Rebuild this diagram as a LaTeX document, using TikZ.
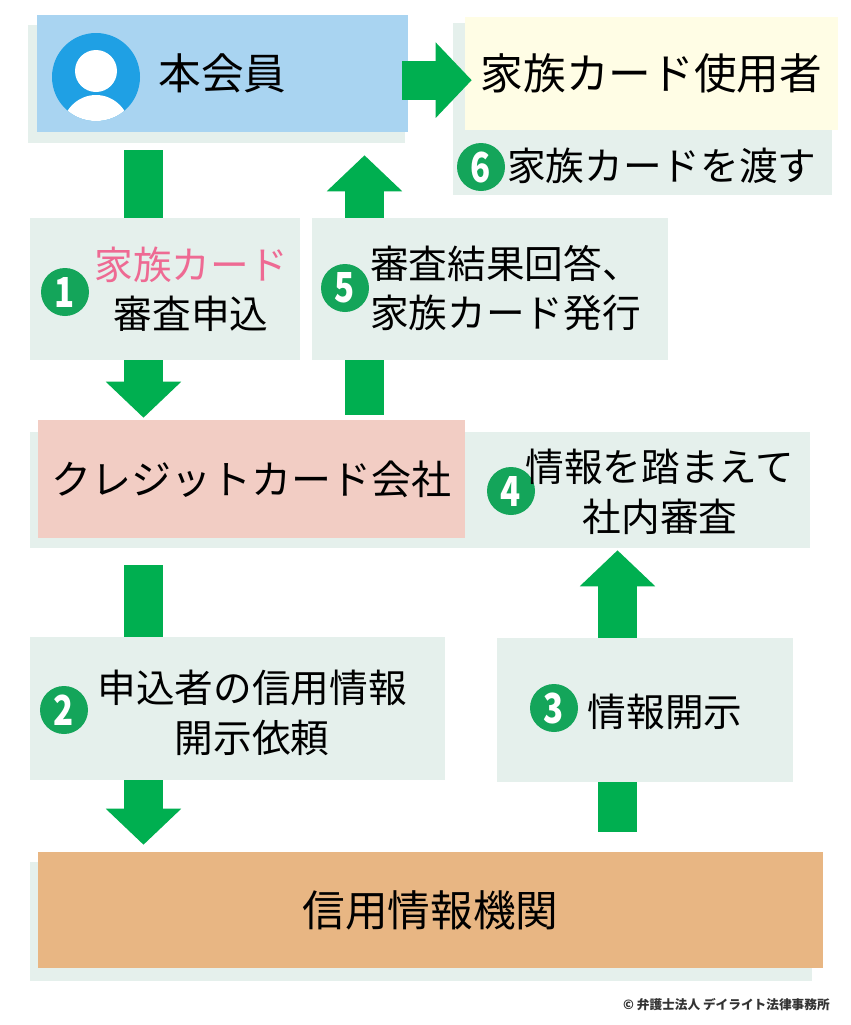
\documentclass[tikz,border=0pt]{standalone}
\usepackage{fontspec}
\setmainfont{Noto Sans CJK JP}
\usepackage{xcolor}
\usepackage{tikz}
\usetikzlibrary{arrows.meta,backgrounds}
\definecolor{panelbg}{HTML}{E5F0EC}
\definecolor{memblue}{HTML}{A9D4F1}
\definecolor{iconblue}{HTML}{1FA0E4}
\definecolor{famyellow}{HTML}{FFFDE5}
\definecolor{cardpink}{HTML}{F2CDC4}
\definecolor{bureauorange}{HTML}{E8B683}
\definecolor{flowgreen}{HTML}{00AF50}
\definecolor{numgreen}{HTML}{14A55A}
\definecolor{pinktext}{HTML}{EE6A93}
\newcommand{\numtxt}[1]{\scalebox{0.8}[1]{#1}}
\tikzset{
  panel/.style={fill=panelbg, inner sep=0pt},
  box/.style={inner sep=0pt, font=\fontsize{32}{38}\selectfont},
  num/.style={circle, fill=numgreen, text=white, minimum size=36pt, inner sep=0pt, font=\bfseries\fontsize{31}{31}\selectfont},
  lab/.style={inner sep=0pt, font=\fontsize{29}{37}\selectfont},
  flow/.style={draw=flowgreen, line width=29pt, -{Triangle[width=55pt,length=27pt]}}
}

\begin{document}
\begin{tikzpicture}[x=0.75pt, y=-0.75pt]
  \useasboundingbox (0,0) rectangle (850,1025);
  \coordinate (c1) at (143.5,0);
  \coordinate (c5) at (364.5,0);
  \coordinate (c3) at (617.5,0);

  \node[panel, minimum width=282.75pt, minimum height=88.5pt] (p0) at (216.5,84) {};
  \node[panel, minimum width=284.25pt, minimum height=129pt] (p6) at (642.5,109) {};
  \node[panel, minimum width=202.5pt, minimum height=106.5pt] (p1) at (165,289) {};
  \node[panel, minimum width=267pt, minimum height=106.5pt] (p5) at (490,289) {};
  \node[panel, minimum width=585pt, minimum height=87pt] (pc) at (420,490) {};
  \node[panel, minimum width=311.25pt, minimum height=107.25pt] (p2) at (237.5,708.5) {};
  \node[panel, minimum width=222pt, minimum height=108pt] (p3) at (645,710) {};
  \node[panel, minimum width=586.5pt, minimum height=89.25pt] (pb) at (421,921.5) {};

  \node[box, fill=memblue, minimum width=278.25pt, minimum height=87.75pt] (mem) at (222.5,73.5) {本会員};
  \node[box, fill=famyellow, minimum width=279.75pt, minimum height=84.75pt] (fam) at (651.5,73.5) {家族カード使用者};
  \node[box, fill=cardpink, minimum width=320.25pt, minimum height=88.5pt, font=\fontsize{30}{36}\selectfont] (card) at (251.5,479) {クレジットカード会社};
  \node[box, fill=bureauorange, minimum width=588.75pt, minimum height=87pt] (bureau) at (430.5,910) {信用情報機関};

  \node[circle, fill=iconblue, minimum size=66pt, inner sep=0pt] (icon) at (96,77) {};
  \fill[white] ([yshift=4.5pt]icon.center) circle (15.75pt);
  \begin{scope}
    \clip (icon.center) circle (33pt);
    \fill[white] ([yshift=-39.75pt]icon.center) ellipse (25.5pt and 26.25pt);
  \end{scope}

  \node[num] (n6) at (481,167) {\numtxt{6}};
  \node[lab, anchor=west] (t6) at (507,166) {家族カードを渡す};
  \node[num] (n1) at (65,292) {\numtxt{1}};
  \node[lab, align=center] (t1) at (191,289) {\textcolor{pinktext}{家族カード}\\審査申込};
  \node[num] (n5) at (345,288) {\numtxt{5}};
  \node[lab, align=left, anchor=west] (t5) at (370,288) {審査結果回答、\\家族カード発行};
  \node[num] (n4) at (511,491) {\numtxt{4}};
  \node[lab, align=center] (t4) at (660,492) {情報を踏まえて\\社内審査};
  \node[num] (n2) at (64,710) {\numtxt{2}};
  \node[lab, align=center] (t2) at (252,713) {申込者の信用情報\\開示依頼};
  \node[num] (n3) at (554,708) {\numtxt{3}};
  \node[lab] (t3) at (665,712) {情報開示};

  \node[anchor=east, inner sep=0pt, text=black!80, font=\bfseries\fontsize{9.5}{10}\selectfont] (copy) at (830,1005) {© 弁護士法人 デイライト法律事務所};

  \draw[flow, shorten <=-4.5pt, shorten >=-5.25pt] ([yshift=-5pt]mem.east) -- ([yshift=-5pt]fam.west);

  \begin{scope}[on background layer]
    \fill[white] (0,0) rectangle (850,1025);
    \draw[flow, shorten <=5.25pt, shorten >=1.5pt] (p0.south -| c1) -- (card.north -| c1);
    \draw[flow, shorten <=3.75pt, shorten >=9pt] (card.north -| c5) -- (p0.south -| c5);
    \draw[flow, shorten <=12.75pt, shorten >=5.25pt] (pc.south -| c1) -- (bureau.north -| c1);
    \draw[flow, shorten <=15pt, shorten >=1.5pt] (bureau.north -| c3) -- (pc.south -| c3);
  \end{scope}
\end{tikzpicture}
\end{document}
